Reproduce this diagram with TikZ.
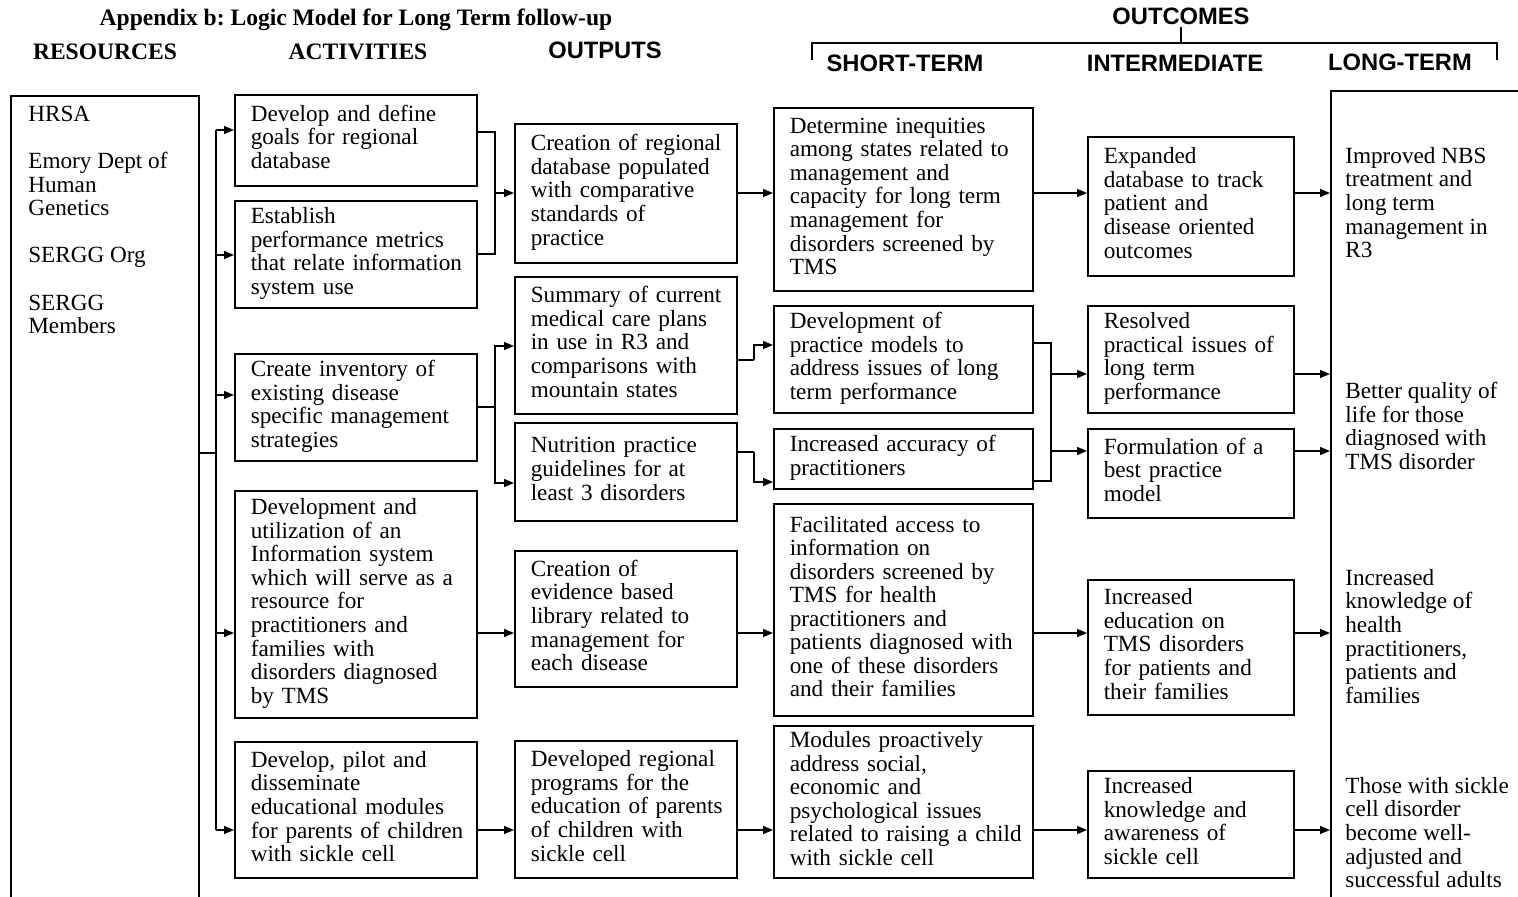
\documentclass[tikz,border=0pt]{standalone}
\usepackage{fontspec}
\setmainfont{Liberation Serif}
\newfontfamily\hsans{Liberation Sans}
\usetikzlibrary{arrows.meta}
\frenchspacing
\newcommand{\boxfont}{\fontsize{13.2}{13.4}\selectfont}
\newcommand{\headserif}{\fontsize{13.4}{15}\selectfont\bfseries}
\newcommand{\headsans}{\hsans\fontsize{13.5}{15}\selectfont\bfseries}
\newcommand{\boxlines}[1]{\begin{tabular}{@{}l@{}}#1\end{tabular}}
\begin{document}
\begin{tikzpicture}[x=0.02cm, y=-0.02cm,
        box/.style={draw, line width=0.9pt, anchor=north west, align=left, inner xsep=0.32cm, inner ysep=0.05cm, font=\boxfont},
        actbox/.style={box, text width=4.20cm},
        outbox/.style={box, text width=3.80cm},
        stbox/.style={box, text width=4.54cm},
        imbox/.style={box, text width=3.48cm},
        frame/.style={draw, line width=0.9pt, anchor=north west, inner sep=0pt},
        plain/.style={anchor=north west, align=left, inner sep=0pt, font=\boxfont},
        link/.style={line width=0.8pt},
        arr/.style={link, -{Triangle[length=0.2cm, width=0.16cm]}}]
        \useasboundingbox (0,0) rectangle (1518,896);
        \node[font=\headserif] (title) at (356,20) {Appendix b: Logic Model for Long Term follow-up};
        \node[font=\headserif] (hres) at (105,52) {RESOURCES};
        \node[font=\headserif] (hact) at (358,52) {ACTIVITIES};
        \node[font=\headsans] (hout) at (605,50) {OUTPUTS};
        \node[font=\headsans, inner sep=1pt] (hoc) at (1181,16) {OUTCOMES};
        \node[font=\headsans] (hst) at (905,63) {SHORT-TERM};
        \node[font=\headsans] (him) at (1175,63) {INTERMEDIATE};
        \node[font=\headsans] (hlt) at (1400,62) {LONG-TERM};
        \coordinate (bl) at (812,43);
        \coordinate (br) at (1497,43);
        \draw[link] ([yshift=-0.34cm]bl) -- (bl) -- (br) -- ([yshift=-0.34cm]br);
        \draw[link] (hoc.south) -- (hoc.south |- bl);
        \node[frame, minimum width=3.76cm, minimum height=16.2cm] (res) at (10,95) {};
        \node[plain] (restext) at (28,106) {HRSA\\[13.4pt] Emory Dept of\\ Human\\ Genetics\\[13.4pt] SERGG Org\\[13.4pt] SERGG\\ Members};
        \node[actbox, minimum height=1.82cm] (a1) at (234,94) {\boxlines{Develop and define\\ goals for regional\\ database}};
        \node[actbox, minimum height=2.14cm] (a2) at (234,200) {\boxlines{Establish\\ performance metrics\\ that relate information\\ system use}};
        \node[actbox, minimum height=2.14cm] (a3) at (234,353) {\boxlines{Create inventory of\\ existing disease\\ specific management\\ strategies}};
        \node[actbox, minimum height=4.54cm] (a4) at (234,490) {\boxlines{Development and\\ utilization of an\\ Information system\\ which will serve as a\\ resource for\\ practitioners and\\ families with\\ disorders diagnosed\\ by TMS}};
        \node[actbox, minimum height=2.72cm] (a5) at (234,741) {\boxlines{Develop, pilot and\\ disseminate\\ educational modules\\ for parents of children\\ with sickle cell}};
        \node[outbox, minimum height=2.78cm] (o1) at (514,123) {\boxlines{Creation of regional\\ database populated\\ with comparative\\ standards of\\ practice}};
        \node[outbox, minimum height=2.74cm] (o2) at (514,276) {\boxlines{Summary of current\\ medical care plans\\ in use in R3 and\\ comparisons with\\ mountain states}};
        \node[outbox, minimum height=1.96cm] (o3) at (514,422) {\boxlines{Nutrition practice\\ guidelines for at\\ least 3 disorders}};
        \node[outbox, minimum height=2.72cm] (o4) at (514,550) {\boxlines{Creation of\\ evidence based\\ library related to\\ management for\\ each disease}};
        \node[outbox, minimum height=2.74cm] (o5) at (514,740) {\boxlines{Developed regional\\ programs for the\\ education of parents\\ of children with\\ sickle cell}};
        \node[stbox, minimum height=3.66cm] (s1) at (773,107) {\boxlines{Determine inequities\\ among states related to\\ management and\\ capacity for long term\\ management for\\ disorders screened by\\ TMS}};
        \node[stbox, minimum height=2.14cm] (s2) at (773,305) {\boxlines{Development of\\ practice models to\\ address issues of long\\ term performance}};
        \node[stbox, minimum height=1.20cm] (s3) at (773,428) {\boxlines{Increased accuracy of\\ practitioners}};
        \node[stbox, minimum height=4.24cm] (s4) at (773,503) {\boxlines{Facilitated access to\\ information on\\ disorders screened by\\ TMS for health\\ practitioners and\\ patients diagnosed with\\ one of these disorders\\ and their families}};
        \node[stbox, minimum height=3.04cm] (s5) at (773,725) {\boxlines{Modules proactively\\ address social,\\ economic and\\ psychological issues\\ related to raising a child\\ with sickle cell}};
        \node[imbox, minimum height=2.78cm] (i1) at (1087,136) {\boxlines{Expanded\\ database to track\\ patient and\\ disease oriented\\ outcomes}};
        \node[imbox, minimum height=2.14cm] (i2) at (1087,305) {\boxlines{Resolved\\ practical issues of\\ long term\\ performance}};
        \node[imbox, minimum height=1.78cm] (i3) at (1087,428) {\boxlines{Formulation of a\\ best practice\\ model}};
        \node[imbox, minimum height=2.70cm] (i4) at (1087,579) {\boxlines{Increased\\ education on\\ TMS disorders\\ for patients and\\ their families}};
        \node[imbox, minimum height=2.14cm] (i5) at (1087,770) {\boxlines{Increased\\ knowledge and\\ awareness of\\ sickle cell}};
        \node[frame, minimum width=4cm, minimum height=16.3cm] (lt) at (1330,90) {};
        \node[plain] (lt1) at (1345,147) {Improved NBS\\ treatment and\\ long term\\ management in\\ R3};
        \node[plain] (lt2) at (1345,382) {Better quality of\\ life for those\\ diagnosed with\\ TMS disorder};
        \node[plain] (lt3) at (1345,569) {Increased\\ knowledge of\\ health\\ practitioners,\\ patients and\\ families};
        \node[plain] (lt4) at (1345,777) {Those with sickle\\ cell disorder\\ become well-\\ adjusted and\\ successful adults};
        \coordinate (ja) at (216,453);
        \coordinate (t1) at (216,130);
        \coordinate (t2) at (216,255);
        \coordinate (t3) at (216,395);
        \coordinate (t4) at (216,633);
        \coordinate (t5) at (216,830);
        \draw[link] (res.east |- ja) -- (ja);
        \draw[link] (t1) -- (t5);
        \draw[arr] (t1) -- (a1.west |- t1);
        \draw[arr] (t2) -- (a2.west |- t2);
        \draw[arr] (t3) -- (a3.west |- t3);
        \draw[arr] (t4) -- (a4.west |- t4);
        \draw[arr] (t5) -- (a5.west |- t5);
        \coordinate (m1) at (495,193);
        \coordinate (m1a) at (495,132);
        \coordinate (m1b) at (495,254);
        \draw[link] (a1.east |- m1a) -- (m1a) -- (m1b) -- (a2.east |- m1b);
        \draw[arr] (m1) -- (o1.west |- m1);
        \coordinate (f1) at (495,407);
        \coordinate (f1a) at (495,346);
        \coordinate (f1b) at (495,483);
        \draw[link] (a3.east |- f1) -- (f1);
        \draw[arr] (f1) -- (f1a) -- (o2.west |- f1a);
        \draw[arr] (f1) -- (f1b) -- (o3.west |- f1b);
        \draw[arr] (a4.east |- t4) -- (o4.west |- t4);
        \draw[arr] (a5.east |- t5) -- (o5.west |- t5);
        \draw[arr] (o1.east |- m1) -- (s1.west |- m1);
        \coordinate (m2a) at (754,360);
        \coordinate (m2b) at (754,452);
        \coordinate (m2c) at (754,345);
        \coordinate (m2d) at (754,482);
        \draw[link] (o2.east |- m2a) -- (m2a);
        \draw[link] (o3.east |- m2b) -- (m2b);
        \draw[arr] (m2a) -- (m2c) -- (s2.west |- m2c);
        \draw[arr] (m2b) -- (m2d) -- (s3.west |- m2d);
        \draw[arr] (o4.east |- t4) -- (s4.west |- t4);
        \draw[arr] (o5.east |- t5) -- (s5.west |- t5);
        \draw[arr] (s1.east |- m1) -- (i1.west |- m1);
        \coordinate (m3a) at (1051,343);
        \coordinate (m3b) at (1051,481);
        \coordinate (m3c) at (1051,374);
        \coordinate (m3d) at (1051,451);
        \draw[link] (s2.east |- m3a) -- (m3a) -- (m3b) -- (s3.east |- m3b);
        \draw[arr] (m3c) -- (i2.west |- m3c);
        \draw[arr] (m3d) -- (i3.west |- m3d);
        \draw[arr] (s4.east |- t4) -- (i4.west |- t4);
        \draw[arr] (s5.east |- t5) -- (i5.west |- t5);
        \draw[arr] (i1.east |- m1) -- (lt.west |- m1);
        \draw[arr] (i2.east |- m3c) -- (lt.west |- m3c);
        \draw[arr] (i3.east |- m3d) -- (lt.west |- m3d);
        \draw[arr] (i4.east |- t4) -- (lt.west |- t4);
        \draw[arr] (i5.east |- t5) -- (lt.west |- t5);
    \end{tikzpicture}
\end{document}
